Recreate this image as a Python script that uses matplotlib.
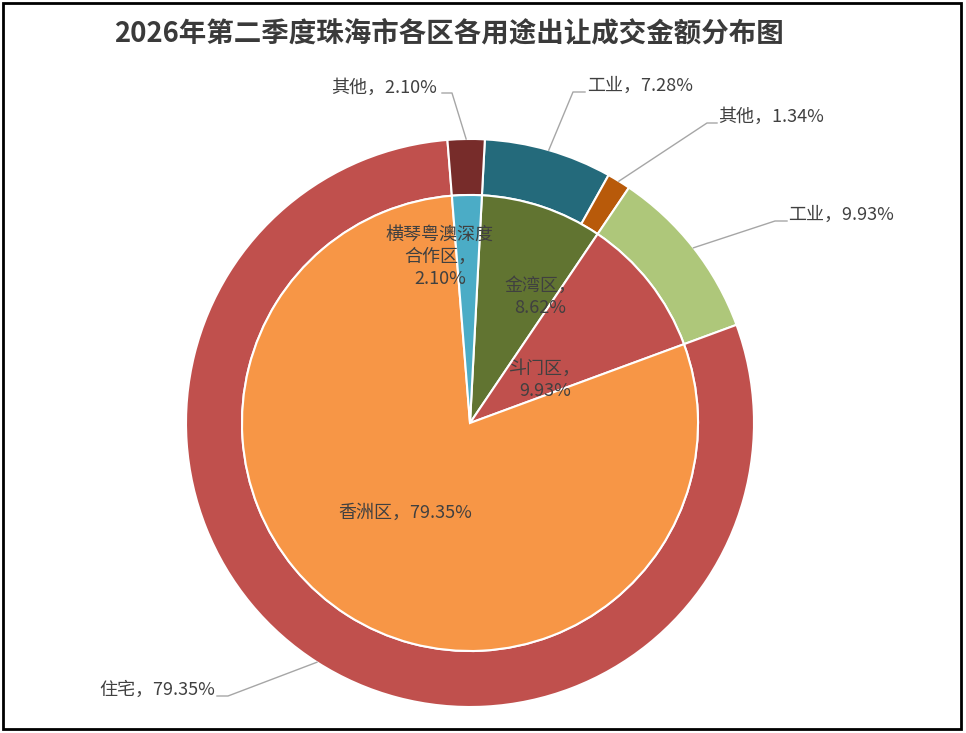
import numpy as np
import matplotlib
matplotlib.use("Agg")
import matplotlib.pyplot as plt
from matplotlib.patches import Rectangle

plt.rcParams['font.family'] = ['Noto Sans CJK SC', 'DejaVu Sans']

title = "2026年第二季度珠海市各区各用途出让成交金额分布图"

# 内圈：各区
districts = ["金湾区", "斗门区", "香洲区", "横琴粤澳深度\n合作区"]
district_share = [8.62, 9.93, 79.35, 2.10]
district_colors = ["#617431", "#C0504D", "#F79646", "#4BACC6"]

# 外圈：各区各用途
uses = ["工业", "其他", "工业", "住宅", "其他"]
use_share = [7.28, 1.34, 9.93, 79.35, 2.10]
use_colors = ["#246A7B", "#B85A0A", "#AEC77A", "#C0504D", "#772C2A"]

W, H = 966, 733
def py(y):
    # pixel y (top-down) -> data y
    return H - y

fig = plt.figure(figsize=(W / 100, H / 100), dpi=100)
ax = fig.add_axes([0, 0, 1, 1])

cx, cy = 470, py(423)
r_out, r_in = 284, 228

outer, _ = ax.pie(use_share, radius=r_out, center=(cx, cy), startangle=87,
                  counterclock=False, colors=use_colors, frame=True,
                  wedgeprops=dict(width=r_out - r_in, edgecolor="white", linewidth=1.5))
inner, _ = ax.pie(district_share, radius=r_in, center=(cx, cy), startangle=87,
                  counterclock=False, colors=district_colors, frame=True,
                  wedgeprops=dict(edgecolor="white", linewidth=1.5))

ax.set_xlim(0, W)
ax.set_ylim(0, H)
ax.axis("off")

txt_c = "#404040"
line_c = "#A6A6A6"
fs = 13

# 外圈标签 (文字位置, 引线拐点)
out_text_xy = [(587, 86), (718, 117), (788, 215), (215, 690), (437, 88)]
out_ha = ["left", "left", "left", "right", "right"]
out_elbow = [[(585, 92), (573, 92)],
             [(717, 123), (707, 123)],
             [(787, 221), (775, 221)],
             [(217, 696), (228, 696)],
             [(442, 93), (452, 93)]]

for w, name, v, (tx, ty), ha, elb in zip(outer, uses, use_share, out_text_xy, out_ha, out_elbow):
    mid = np.deg2rad((w.theta1 + w.theta2) / 2)
    ex = cx + r_out * np.cos(mid)
    ey = cy + r_out * np.sin(mid)
    xs = [elb[0][0], elb[1][0], ex]
    ys = [py(elb[0][1]), py(elb[1][1]), ey]
    ax.plot(xs, ys, color=line_c, lw=1)
    ax.text(tx, py(ty), f"{name}，{v:.2f}%", ha=ha, va="center", fontsize=fs, color=txt_c)

# 内圈标签
in_text_xy = [(540, 297), (545, 380), (405, 513), (440, 257)]
in_sep = ["，\n", "，\n", "，", "，\n"]
for name, v, (tx, ty), sep in zip(districts, district_share, in_text_xy, in_sep):
    ax.text(tx, py(ty), f"{name}{sep}{v:.2f}%", ha="center", va="center",
            fontsize=fs, color=txt_c, linespacing=1.3)

ax.text(449, py(33), title, ha="center", va="center", fontsize=19.8,
        fontweight="bold", color="#3A3A3A")

ax.add_patch(Rectangle((3, py(729)), 958, 726, fill=False, edgecolor="black", lw=2))

fig.savefig("out.png", dpi=100)
